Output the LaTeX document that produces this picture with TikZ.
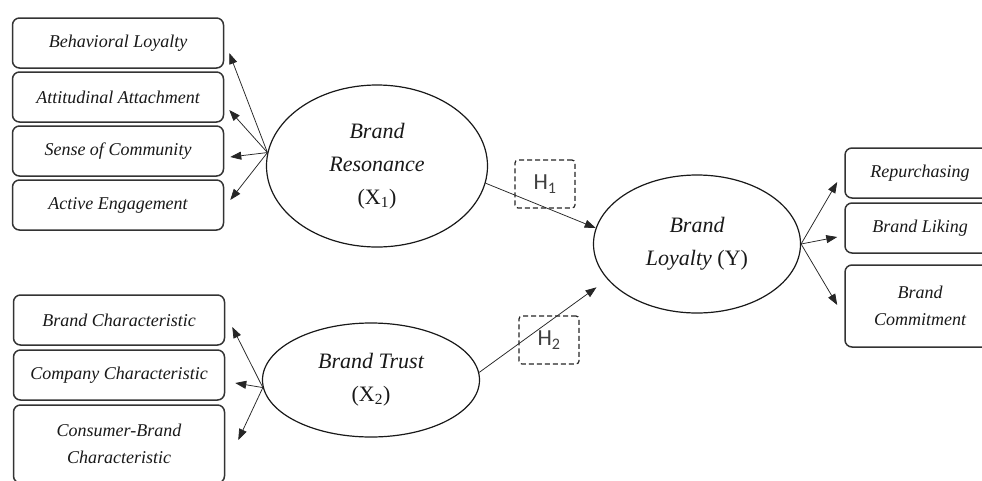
\documentclass[tikz,border=0pt]{standalone}
\usepackage{fontspec}
\setmainfont{Liberation Serif}
\newfontfamily\hfont{Carlito}
\usetikzlibrary{arrows.meta,shapes.geometric}
\begin{document}
\begin{tikzpicture}[x=1pt,y=-1pt,
 ibox/.style={draw=black!80, line width=1.5pt, rounded corners=7pt, minimum width=211pt, minimum height=50pt, inner sep=0pt, align=center, font=\fontsize{18}{27}\selectfont\itshape, text=black!90},
 lat/.style={ellipse, draw=black!90, line width=1.2pt, inner sep=0pt, align=center, font=\fontsize{22}{33}\selectfont\itshape, text=black!90},
 hyp/.style={draw=black!85, dash pattern=on 5pt off 3pt, line width=1.2pt, rounded corners=3pt, minimum width=60pt, minimum height=48pt, font=\hfont\fontsize{23}{26}\selectfont, text=black!75},
 arr/.style={draw=black!85, line width=0.75pt, -{Triangle[length=11pt,width=8pt]}}]
\fill[white] (0,0) rectangle (982,480);
\useasboundingbox (0,0) rectangle (982,480);

% indicator boxes, left top
\node[ibox] (b1) at (118,43) {Behavioral Loyalty};
\node[ibox] (b2) at (118,97) {Attitudinal Attachment};
\node[ibox] (b3) at (118,151) {Sense of Community};
\node[ibox] (b4) at (118,205) {Active Engagement};
% indicator boxes, left bottom
\node[ibox] (c1) at (119,320) {Brand Characteristic};
\node[ibox] (c2) at (119,375) {Company Characteristic};
\node[ibox, minimum height=78pt] (c3) at (119,444) {Consumer-Brand\\Characteristic};
% indicator boxes, right
\node[ibox, minimum width=150pt] (r1) at (920,173) {Repurchasing};
\node[ibox, minimum width=150pt] (r2) at (920,228) {Brand Liking};
\node[ibox, minimum width=150pt, minimum height=82pt] (r3) at (920,306) {Brand\\Commitment};

% latent variables
\node[lat, minimum width=221pt, minimum height=162pt] (x1) at (377,166) {Brand\\Resonance\\{\upshape (X\textsubscript{1})}};
\node[lat, minimum width=217pt, minimum height=114pt] (x2) at (371,380) {Brand Trust\\{\upshape (X\textsubscript{2})}};
\node[lat, minimum width=207pt, minimum height=138pt] (y) at (697,244) {Brand\\Loyalty {\upshape (Y)}};

% hypotheses
\node[hyp] (h1) at (545,184) {H\textsubscript{1}};
\node[hyp] (h2) at (549,340) {H\textsubscript{2}};

% arrows
\draw[arr] (x1.173) -- ([shift={(5,10)}]b1.east);
\draw[arr] (x1.173) -- ([shift={(5,13)}]b2.east);
\draw[arr] (x1.173) -- ([shift={(6,6)}]b3.east);
\draw[arr] (x1.173) -- ([shift={(6,-5)}]b4.east);

\draw[arr] (x2.184) -- ([shift={(7,7)}]c1.east);
\draw[arr] (x2.184) -- ([shift={(10,8)}]c2.east);
\draw[arr] (x2.184) -- ([shift={(13,-4)}]c3.east);

\draw[arr] (y.east) -- ([shift={(-7,9)}]r1.west);
\draw[arr] (y.east) -- ([shift={(-7,9)}]r2.west);
\draw[arr] (y.east) -- ([shift={(-7,-1)}]r3.west);

\draw[arr] (x1.-9) -- (y.171);
\draw[arr] (x2.4) -- ([shift={(-19,0)}]y.208);
\end{tikzpicture}
\end{document}
